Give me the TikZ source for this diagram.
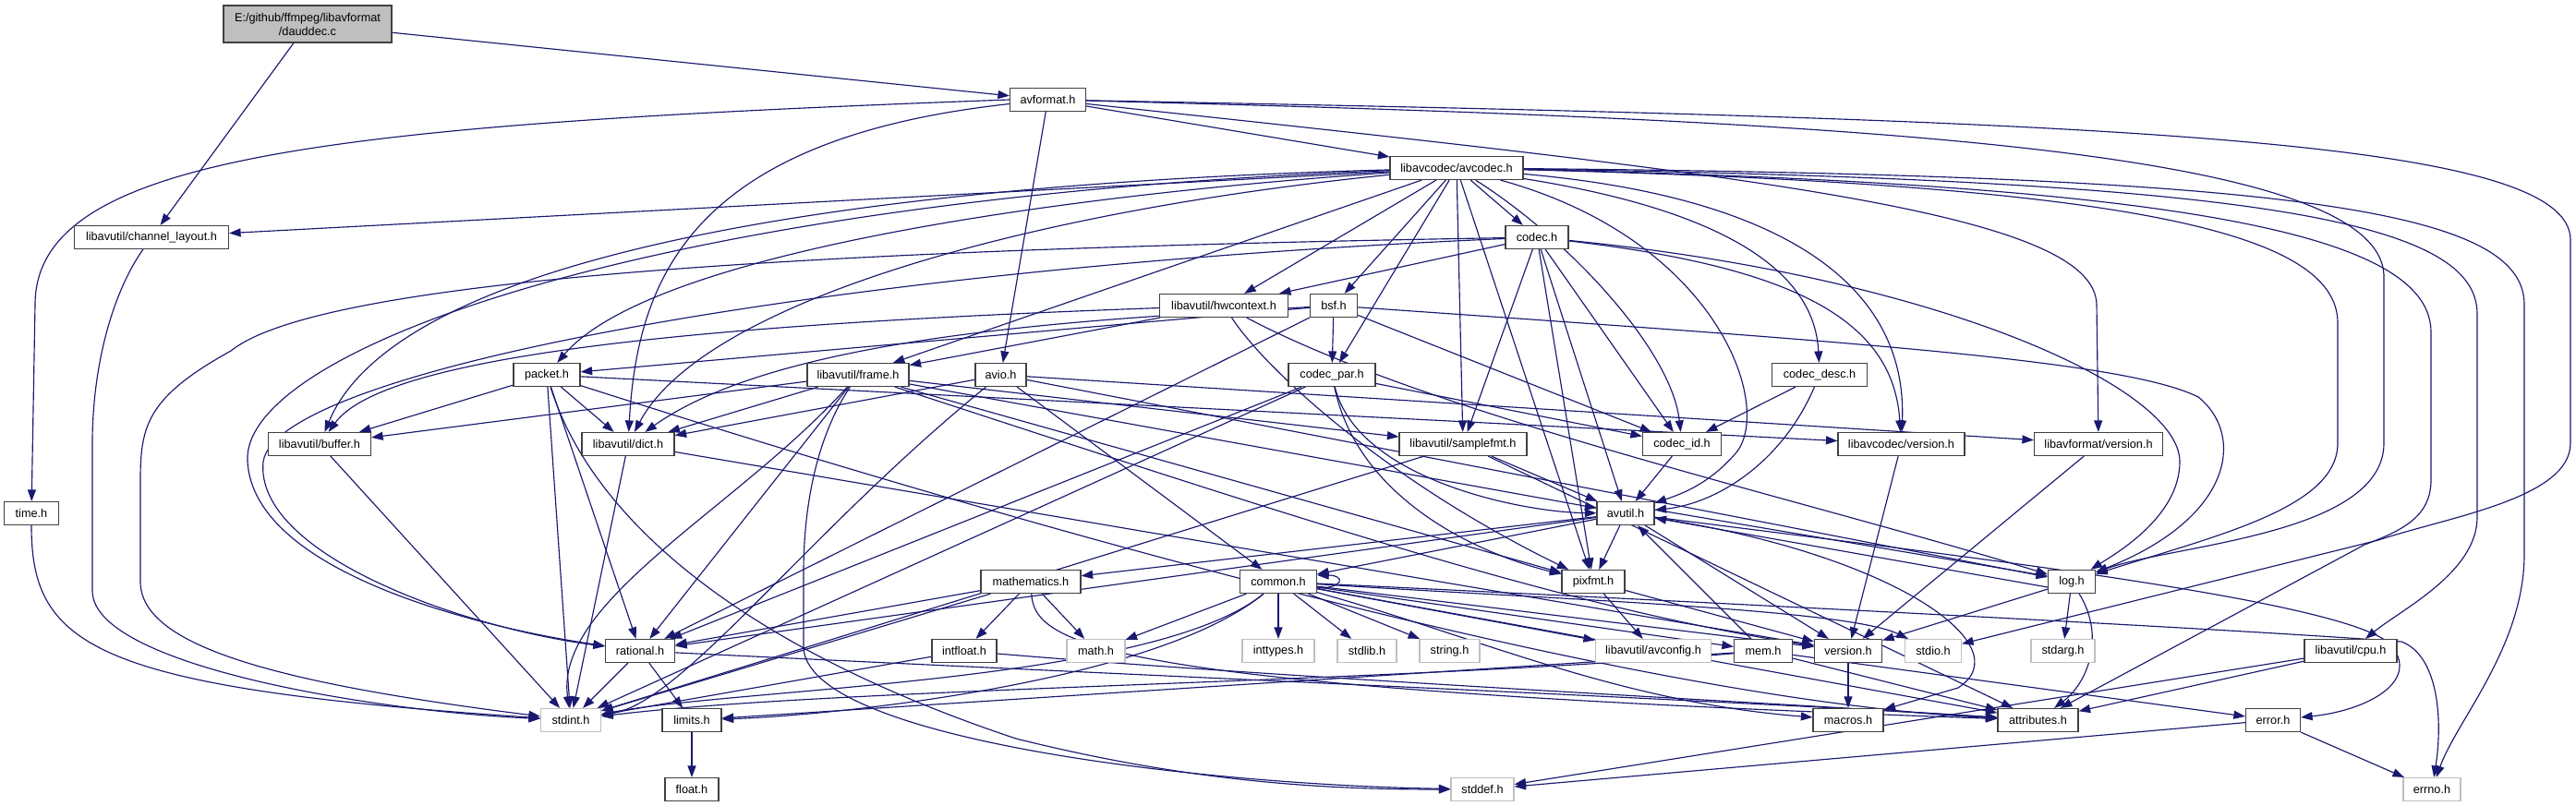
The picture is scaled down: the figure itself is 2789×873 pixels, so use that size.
\documentclass[tikz,border=0pt]{standalone}
\usepackage{fontspec}
\setmainfont{Liberation Sans}
\usetikzlibrary{arrows.meta}
\definecolor{edgec}{HTML}{191970}
\definecolor{grayb}{HTML}{BFBFBF}
\definecolor{boxb}{HTML}{404040}
\pgfdeclarelayer{back}
\pgfdeclarelayer{bg}
\pgfsetlayers{back,bg,main}
\tikzset{
  hb/.style={draw=boxb, line width=1.2bp, fill=white, minimum height=25bp, inner sep=0pt,
    font=\fontsize{12.7bp}{15bp}\selectfont},
  gb/.style={hb, draw=grayb},
  edge/.style={draw=edgec, line width=1.15bp, -{Triangle[length=12.5bp,width=9bp]}},
}
\begin{document}
\begin{tikzpicture}[x=1bp,y=-1bp]
\begin{pgfonlayer}{back}
\fill[white] (0,0) rectangle (2789,873);
\end{pgfonlayer}
\useasboundingbox (0,0) rectangle (2789,873);
% nodes
\node[hb, fill=grayb, minimum width=182bp, minimum height=40bp, align=center] (root) at (333,26) {E:/github/ffmpeg/libavformat\\/dauddec.c};
\node[hb, minimum width=82bp] (avformat) at (1134.5,108) {avformat.h};
\node[hb, minimum width=144bp] (avcodec) at (1577,182) {libavcodec/avcodec.h};
\node[hb, minimum width=167bp] (chlayout) at (164,257) {libavutil/channel\_layout.h};
\node[hb, minimum width=68bp] (codec) at (1664,257) {codec.h};
\node[hb, minimum width=139bp] (hwctx) at (1325,331) {libavutil/hwcontext.h};
\node[hb, minimum width=51bp] (bsf) at (1444,331) {bsf.h};
\node[hb, minimum width=72bp] (packet) at (592,406) {packet.h};
\node[hb, minimum width=110bp] (frame) at (929,406) {libavutil/frame.h};
\node[hb, minimum width=55bp] (avio) at (1083.5,406) {avio.h};
\node[hb, minimum width=94bp] (codecpar) at (1442,406) {codec\_par.h};
\node[hb, minimum width=103bp] (codecdesc) at (1970,406) {codec\_desc.h};
\node[hb, minimum width=111bp] (buffer) at (346,481) {libavutil/buffer.h};
\node[hb, minimum width=100bp] (dict) at (680,481) {libavutil/dict.h};
\node[hb, minimum width=138bp] (samplefmt) at (1584,481) {libavutil/samplefmt.h};
\node[hb, minimum width=85bp] (codecid) at (1821,481) {codec\_id.h};
\node[hb, minimum width=137bp] (lavcver) at (2058.5,481) {libavcodec/version.h};
\node[hb, minimum width=139bp] (lavfver) at (2272,481) {libavformat/version.h};
\node[hb, minimum width=59bp] (time) at (34,556) {time.h};
\node[hb, minimum width=62bp] (avutil) at (1760,556) {avutil.h};
\node[hb, minimum width=108bp] (mathematics) at (1116,630) {mathematics.h};
\node[hb, minimum width=83bp] (common) at (1384,630) {common.h};
\node[hb, minimum width=68bp] (pixfmt) at (1725,630) {pixfmt.h};
\node[hb, minimum width=51bp] (log) at (2243,630) {log.h};
\node[hb, minimum width=75bp] (rational) at (693,705) {rational.h};
\node[hb, minimum width=70bp] (intfloat) at (1044,705) {intfloat.h};
\node[gb, minimum width=63bp] (math) at (1186.5,705) {math.h};
\node[gb, minimum width=78bp] (inttypes) at (1384,705) {inttypes.h};
\node[gb, minimum width=64bp] (stdlib) at (1480,705) {stdlib.h};
\node[gb, minimum width=65bp] (string) at (1569.5,705) {string.h};
\node[gb, minimum width=125bp] (avconfig) at (1790,705) {libavutil/avconfig.h};
\node[hb, minimum width=63bp] (mem) at (1909,705) {mem.h};
\node[hb, minimum width=73bp] (version) at (2001,705) {version.h};
\node[gb, minimum width=61bp] (stdio) at (2093,705) {stdio.h};
\node[gb, minimum width=69bp] (stdarg) at (2233.5,705) {stdarg.h};
\node[hb, minimum width=100bp] (cpu) at (2545,705) {libavutil/cpu.h};
\node[gb, minimum width=65bp] (stdint) at (618,780) {stdint.h};
\node[hb, minimum width=64bp] (limits) at (749,780) {limits.h};
\node[hb, minimum width=76bp] (macros) at (2001,780) {macros.h};
\node[hb, minimum width=87bp] (attributes) at (2206.5,780) {attributes.h};
\node[hb, minimum width=59bp] (error) at (2461,780) {error.h};
\node[hb, minimum width=58bp] (float) at (749,855) {float.h};
\node[gb, minimum width=68bp] (stddef) at (1605,855) {stddef.h};
\node[gb, minimum width=62bp] (errno) at (2633,855) {errno.h};

\begin{pgfonlayer}{bg}
% root
\draw[edge] (root) -- (chlayout);
\draw[edge] (root) -- (avformat);
% avformat
\draw[edge] (avformat.west) .. controls (350,135) and (38,170) .. (38,330) -- (time);
\draw[edge] (avformat) -- (avcodec);
\draw[edge] (avformat) .. controls (750,150) and (690,300) .. (dict);
\draw[edge] (avformat) -- (avio);
\draw[edge] (avformat) .. controls (1900,190) and (2268,230) .. (2270,330) -- (lavfver);
\draw[edge] (avformat) .. controls (2000,130) and (2581,160) .. (2581,300) -- (2581,480) .. controls (2581,580) and (2350,590) .. (log);
\draw[edge] (avformat) .. controls (2300,130) and (2783,150) .. (2783,260) -- (2783,480) .. controls (2783,540) and (2650,560) .. (2575,585) -- (stdio);
% avcodec
\draw[edge] (avcodec) -- (chlayout);
\draw[edge] (avcodec) .. controls (900,200) and (430,280) .. (buffer);
\draw[edge] (avcodec) .. controls (1100,230) and (760,330) .. (dict);
\draw[edge] (avcodec) .. controls (700,215) and (260,380) .. (268,500) .. controls (275,620) and (520,680) .. (rational);
\draw[edge] (avcodec) .. controls (1100,215) and (700,280) .. (packet);
\draw[edge] (avcodec) -- (frame);
\draw[edge] (avcodec) -- (hwctx);
\draw[edge] (avcodec) -- (bsf);
\draw[edge] (avcodec) -- (codec);
\draw[edge] (avcodec) -- (codecpar);
\draw[edge] (avcodec) -- (samplefmt);
\draw[edge] (avcodec) .. controls (1700,260) and (1810,380) .. (codecid);
\draw[edge] (avcodec) .. controls (1880,230) and (1965,300) .. (codecdesc);
\draw[edge] (avcodec) .. controls (1950,215) and (2065,320) .. (lavcver);
\draw[edge] (avcodec) .. controls (1860,260) and (1920,440) .. (1880,490) .. controls (1850,525) and (1820,535) .. (avutil);
\draw[edge] (avcodec) -- (pixfmt);
\draw[edge] (avcodec) .. controls (2300,200) and (2531,250) .. (2531,350) -- (2531,480) .. controls (2531,550) and (2400,580) .. (log);
\draw[edge] (avcodec) .. controls (2500,190) and (2733,230) .. (2733,330) -- (2733,600) .. controls (2733,700) and (2660,780) .. (errno);
\draw[edge] (avcodec) .. controls (2450,195) and (2682,240) .. (2682,340) -- (2682,560) .. controls (2682,620) and (2600,660) .. (cpu);
\draw[edge] (avcodec) .. controls (2400,200) and (2632,260) .. (2632,360) -- (2632,520) .. controls (2632,560) and (2600,575) .. (2560,590) -- (attributes);
% codec
\draw[edge] (codec) .. controls (900,270) and (350,300) .. (250,380) .. controls (160,430) and (152,460) .. (152,520) -- (152,630) .. controls (152,700) and (300,740) .. (stdint);
\draw[edge] (codec) -- (avutil);
\draw[edge] (codec) -- (hwctx);
\draw[edge] (codec) .. controls (2100,300) and (2360,420) .. (2360,500) .. controls (2360,560) and (2290,600) .. (log);
\draw[edge] (codec) -- (pixfmt);
\draw[edge] (codec) .. controls (900,290) and (300,400) .. (285,500) .. controls (275,600) and (500,680) .. (rational);
\draw[edge] (codec) -- (samplefmt);
\draw[edge] (codec) -- (codecid);
\draw[edge] (codec) .. controls (1950,290) and (2050,350) .. (lavcver);
% bsf
\draw[edge] (bsf) .. controls (1200,345) and (850,360) .. (dict);
\draw[edge] (bsf) .. controls (2000,370) and (2300,390) .. (2380,430) .. controls (2430,470) and (2420,560) .. (log);
\draw[edge] (bsf) -- (rational);
\draw[edge] (bsf) -- (codecid);
\draw[edge] (bsf) -- (codecpar);
\draw[edge] (bsf) -- (packet);
% hwcontext
\draw[edge] (hwctx) .. controls (800,350) and (420,380) .. (buffer);
\draw[edge] (hwctx) -- (frame);
\draw[edge] (hwctx) .. controls (1550,450) and (1950,540) .. (log);
\draw[edge] (hwctx) .. controls (1370,400) and (1500,520) .. (pixfmt);
% packet
\draw[edge] (packet) .. controls (640,560) and (800,700) .. (1100,800) .. controls (1300,850) and (1450,855) .. (stddef);
\draw[edge] (packet) -- (stdint);
\draw[edge] (packet) .. controls (1200,600) and (1800,760) .. (attributes);
\draw[edge] (packet) -- (buffer);
\draw[edge] (packet) -- (dict);
\draw[edge] (packet) -- (rational);
\draw[edge] (packet) -- (lavcver);
% frame
\draw[edge] (frame) .. controls (880,480) and (870,560) .. (870,620) -- (870,700) .. controls (870,800) and (1300,850) .. (stddef);
\draw[edge] (frame) .. controls (800,550) and (600,650) .. (stdint);
\draw[edge] (frame) -- (avutil);
\draw[edge] (frame) -- (buffer);
\draw[edge] (frame) -- (dict);
\draw[edge] (frame) -- (rational);
\draw[edge] (frame) -- (samplefmt);
\draw[edge] (frame) -- (pixfmt);
\draw[edge] (frame) .. controls (1400,560) and (1700,660) .. (version);
% avio
\draw[edge] (avio) .. controls (870,580) and (740,760) .. (stdint);
\draw[edge] (avio) -- (common);
\draw[edge] (avio) -- (dict);
\draw[edge] (avio) -- (log);
\draw[edge] (avio) -- (lavfver);
% codec_par
\draw[edge] (codecpar) -- (stdint);
\draw[edge] (codecpar) .. controls (1470,520) and (1650,555) .. (avutil);
\draw[edge] (codecpar) -- (rational);
\draw[edge] (codecpar) .. controls (1470,540) and (1600,600) .. (pixfmt);
\draw[edge] (codecpar) -- (codecid);
% codec_desc
\draw[edge] (codecdesc) .. controls (1930,500) and (1860,545) .. (avutil);
\draw[edge] (codecdesc) -- (codecid);
% rank 6
\draw[edge] (buffer) -- (stdint);
\draw[edge] (dict) -- (stdint);
\draw[edge] (dict) -- (version);
\draw[edge] (samplefmt) -- (stdint);
\draw[edge] (samplefmt) -- (avutil);
\draw[edge] (samplefmt) -- (attributes);
\draw[edge] (codecid) -- (avutil);
\draw[edge] (lavcver) -- (version);
\draw[edge] (lavfver) -- (version);
% avutil
\draw[edge] (avutil) -- (common);
\draw[edge] (avutil) .. controls (2100,600) and (2550,650) .. (2590,700) .. controls (2620,740) and (2560,770) .. (error);
\draw[edge] (avutil) -- (rational);
\draw[edge] (avutil) -- (version);
\draw[edge] (avutil) .. controls (2050,600) and (2190,700) .. (2120,745) -- (macros);
\draw[edge] (avutil) -- (mathematics);
\draw[edge] ([yshift=4bp]avutil.east) -- ([yshift=6bp]log.west);
\draw[edge] ([yshift=-6bp]log.west) -- ([yshift=-5bp]avutil.east);
\draw[edge] (avutil) -- (pixfmt);
% mathematics
\draw[edge] (mathematics) -- (stdint);
\draw[edge] (mathematics) -- (math);
\draw[edge] (mathematics) .. controls (1120,700) and (1200,745) .. (attributes);
\draw[edge] (mathematics) -- (rational);
\draw[edge] (mathematics) -- (intfloat);
% common
\draw[edge] (common) .. controls (1800,650) and (2400,680) .. (2600,695) .. controls (2640,710) and (2645,780) .. (errno);
\draw[edge] (common) -- (inttypes);
\draw[edge] (common) .. controls (1250,740) and (900,775) .. (limits);
\draw[edge] (common) -- (math);
\draw[edge] (common) .. controls (1250,740) and (800,745) .. (stdint);
\draw[edge] (common) .. controls (1700,650) and (2000,660) .. (stdio);
\draw[edge] (common) -- (stdlib);
\draw[edge] (common) -- (string);
\draw[edge] (common) -- (attributes);
\draw[edge] (common) .. controls (1600,690) and (1750,760) .. (macros);
\draw[edge] (common) -- (version);
\draw[edge] (common) -- (avconfig);
\draw[edge] (common) -- (mem);
\draw[edge] ([yshift=-7bp]common.east) .. controls +(30,0) and +(30,0) .. ([yshift=7bp]common.east);
% pixfmt
\draw[edge] (pixfmt) -- (avconfig);
\draw[edge] (pixfmt) -- (version);
% log
\draw[edge] (log) -- (stdarg);
\draw[edge] (log) .. controls (2280,690) and (2260,740) .. (attributes);
\draw[edge] (log) -- (version);
% rational, intfloat
\draw[edge] (rational) -- (stdint);
\draw[edge] (rational) -- (limits);
\draw[edge] (rational) .. controls (1200,730) and (1900,760) .. (attributes);
\draw[edge] (intfloat) -- (stdint);
\draw[edge] (intfloat) .. controls (1400,735) and (1900,760) .. (attributes);
% mem
\draw[edge] (mem) -- (limits);
\draw[edge] (mem) .. controls (1500,740) and (900,745) .. (stdint);
\draw[edge] (mem) -- (attributes);
\draw[edge] (mem) -- (error);
\draw[edge] (mem) -- (avutil);
% others
\draw[edge] (version) -- (macros);
\draw[edge] (limits) -- (float);
\draw[edge] (error) -- (errno);
\draw[edge] (error) -- (stddef);
\draw[edge] (cpu) -- (stddef);
\draw[edge] (cpu) -- (attributes);
\draw[edge] (chlayout) .. controls (120,320) and (100,400) .. (100,480) -- (100,640) .. controls (100,720) and (400,770) .. (stdint);
\draw[edge] (time) .. controls (34,700) and (100,745) .. (stdint);
\end{pgfonlayer}
\end{tikzpicture}
\end{document}
